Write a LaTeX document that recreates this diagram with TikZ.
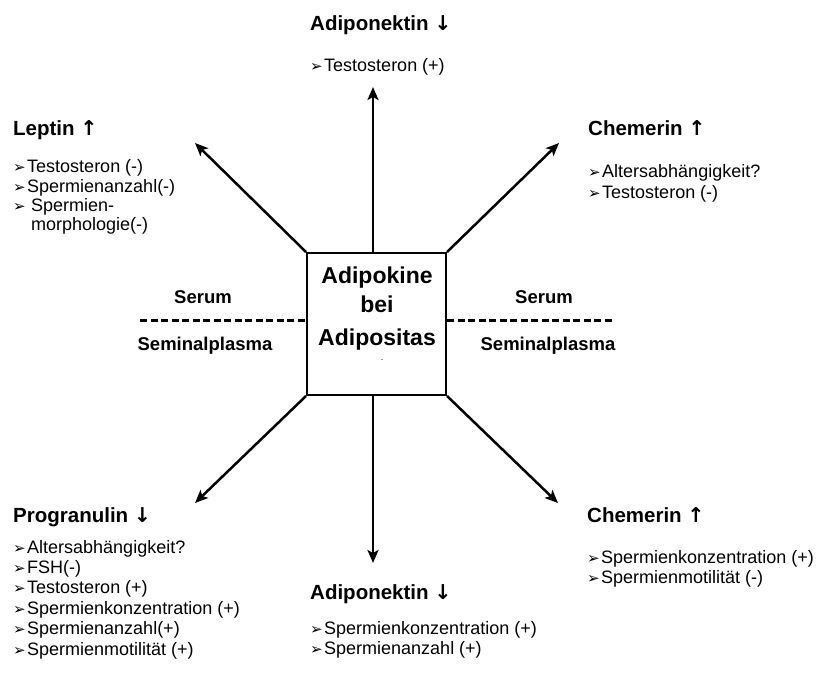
\documentclass[tikz,border=0pt]{standalone}
\usepackage{fontspec}
\setmainfont{Liberation Sans}
\newfontfamily\symf{DejaVu Sans}
\usetikzlibrary{arrows.meta}
\newcommand{\blt}{\makebox[14pt][l]{\symf\fontsize{15}{15}\selectfont ➢}}
\newcommand{\arrup}{{\symf\bfseries ↑}}
\newcommand{\arrdn}{{\symf\bfseries ↓}}
\begin{document}
\begin{tikzpicture}[x=1pt,y=-1pt,
  head/.style={anchor=base west, inner sep=0pt, font=\fontsize{20.5}{24}\selectfont\bfseries},
  item/.style={anchor=base west, inner sep=0pt, font=\fontsize{18}{20}\selectfont},
  lbl/.style={anchor=base, inner sep=0pt, font=\fontsize{18.5}{22}\selectfont\bfseries},
  boxtxt/.style={anchor=base, inner sep=0pt, font=\fontsize{23}{27}\selectfont\bfseries},
  conn/.style={line width=2.5pt, -{Stealth[length=13pt,width=11pt,inset=3pt]}},
  divider/.style={line width=3pt, dash pattern=on 7pt off 3.5pt}]
\useasboundingbox (0,0) rectangle (817,681);

% central box
\node[draw, line width=2pt, minimum width=139pt, minimum height=142pt, inner sep=0pt] (box) at (376.5,324) {};
\node[boxtxt] (b1) at (377,283) {Adipokine};
\node[boxtxt] (b2) at (377,312) {bei};
\node[boxtxt] (b3) at (377,345) {Adipositas};
\node[inner sep=0pt, font=\fontsize{9}{9}\selectfont] (bdot) at (382,360) {.};

% arrow tips
\coordinate (tN) at (373,87);
\coordinate (tS) at (373,563);
\coordinate (tNW) at (195,143);
\coordinate (tNE) at (559,143);
\coordinate (tSW) at (195,503);
\coordinate (tSE) at (558,503);

\draw[conn] (box.north -| tN) -- (tN);
\draw[conn] (box.south -| tS) -- (tS);
\draw[conn] (box.north west) -- (tNW);
\draw[conn] (box.north east) -- (tNE);
\draw[conn] (box.south west) -- (tSW);
\draw[conn] (box.south east) -- (tSE);

% dividers
\coordinate (dL) at (140,320);
\coordinate (dR) at (613,320);
\draw[divider] (dL) -- (dL -| box.west);
\draw[divider] (box.east |- dR) -- (dR);

\node[lbl] (sL) at (203,303) {Serum};
\node[lbl] (pL) at (205,350) {Seminalplasma};
\node[lbl] (sR) at (544,303) {Serum};
\node[lbl] (pR) at (548,350) {Seminalplasma};

% top: Adiponektin
\node[head] (hN) at (310,30) {Adiponektin \arrdn};
\node[item] (n1) at (310,71) {\blt Testosteron (+)};

% Leptin
\node[head] (hNW) at (13,135) {Leptin \arrup};
\node[item] (l1) at (13,172) {\blt Testosteron (-)};
\node[item] (l2) at (13,192) {\blt Spermienanzahl(-)};
\node[item] (l3) at (13,211) {\blt\hspace{4pt}Spermien-};
\node[item] (l4) at (31,230) {morphologie(-)};

% Chemerin top
\node[head] (hNE) at (588,135) {Chemerin \arrup};
\node[item] (c1) at (588,177) {\blt Altersabhängigkeit?};
\node[item] (c2) at (588,198) {\blt Testosteron (-)};

% Progranulin
\node[head] (hSW) at (13,522) {Progranulin \arrdn};
\node[item] (p1) at (13,553) {\blt Altersabhängigkeit?};
\node[item] (p2) at (13,573) {\blt FSH(-)};
\node[item] (p3) at (13,593) {\blt Testosteron (+)};
\node[item] (p4) at (13,614) {\blt Spermienkonzentration (+)};
\node[item] (p5) at (13,634) {\blt Spermienanzahl(+)};
\node[item] (p6) at (13,655) {\blt Spermienmotilität (+)};

% Adiponektin bottom
\node[head] (hS) at (310,599) {Adiponektin \arrdn};
\node[item] (a1) at (310,634) {\blt Spermienkonzentration (+)};
\node[item] (a2) at (310,654) {\blt Spermienanzahl (+)};

% Chemerin bottom
\node[head] (hSE) at (587,522) {Chemerin \arrup};
\node[item] (e1) at (587,563) {\blt Spermienkonzentration (+)};
\node[item] (e2) at (587,583) {\blt Spermienmotilität (-)};
\end{tikzpicture}
\end{document}
